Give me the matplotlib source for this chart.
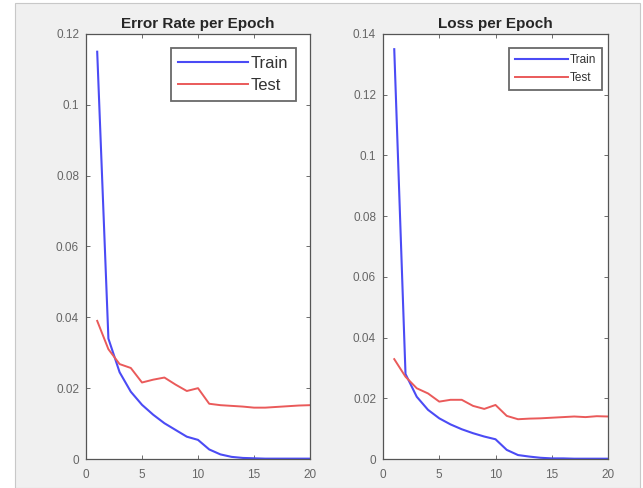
import matplotlib
matplotlib.use("Agg")
import matplotlib.pyplot as plt
from matplotlib.patches import Rectangle

plt.rcParams["font.family"] = ["Liberation Sans", "DejaVu Sans"]

epochs = list(range(1, 21))

# error rate per epoch
err_train = [0.115, 0.034, 0.0245, 0.019, 0.0153, 0.0125, 0.0101, 0.0082, 0.0063, 0.0054,
             0.0027, 0.0013, 0.0006, 0.0003, 0.0002, 0.0001, 0.0001, 0.0001, 0.0001, 0.0001]
err_test = [0.039, 0.031, 0.0268, 0.0257, 0.0216, 0.0224, 0.023, 0.021, 0.0192, 0.020,
            0.0156, 0.0152, 0.015, 0.0148, 0.0145, 0.0145, 0.0147, 0.0149, 0.0151, 0.0152]

# loss per epoch
loss_train = [0.135, 0.028, 0.0205, 0.0162, 0.0134, 0.0114, 0.0098, 0.0085, 0.0074, 0.0065,
              0.003, 0.0013, 0.0008, 0.0004, 0.0002, 0.0002, 0.0001, 0.0001, 0.0001, 0.0001]
loss_test = [0.0329, 0.0271, 0.0233, 0.0216, 0.0189, 0.0195, 0.0195, 0.0175, 0.0165, 0.0178,
             0.0142, 0.0131, 0.0133, 0.0134, 0.0136, 0.0138, 0.014, 0.0138, 0.0141, 0.014]

fig = plt.figure(figsize=(6.43, 4.88), dpi=100, facecolor="white")
# matlab style grey window background
fig.patches.append(Rectangle((15 / 643, 0), 625 / 643, 1 - 3 / 488, transform=fig.transFigure,
                             facecolor="#f0f0f0", edgecolor="#c8c8c8", lw=0.8, zorder=-10))

blue = "#4b4bf5"
red = "#ea5a5a"


def style(ax, ymax, yticks, ylabels):
    ax.set_xlim(0, 20)
    ax.set_ylim(0, ymax)
    ax.set_xticks([0, 5, 10, 15, 20])
    ax.set_yticks(yticks)
    ax.set_yticklabels(ylabels)
    ax.tick_params(direction="in", top=True, right=True, length=3, labelsize=8.5,
                   colors="#555555", labelcolor="#666666", width=0.6)
    ax.tick_params(axis="x", pad=7)
    ax.tick_params(axis="y", pad=5)
    for s in ax.spines.values():
        s.set_color("#555555")
        s.set_linewidth(0.9)


def legend(ax, size, hlen, bpad, axpad, lspace, anchor=(1, 1)):
    leg = ax.legend(loc="upper right", bbox_to_anchor=anchor, fontsize=size, frameon=True,
                    fancybox=False, handlelength=hlen, handletextpad=0.15, borderpad=bpad,
                    labelspacing=lspace, borderaxespad=axpad)
    leg.get_frame().set_edgecolor("#444444")
    leg.get_frame().set_linewidth(1.3)
    for t in leg.get_texts():
        t.set_color("#333333")


ax1 = fig.add_axes([86 / 643, 1 - 459 / 488, 224 / 643, 425 / 488])
ax1.plot(epochs, err_train, color=blue, lw=1.5, label="Train")
ax1.plot(epochs, err_test, color=red, lw=1.4, label="Test")
style(ax1, 0.12, [0, 0.02, 0.04, 0.06, 0.08, 0.1, 0.12],
      ["0", "0.02", "0.04", "0.06", "0.08", "0.1", "0.12"])
ax1.set_title("Error Rate per Epoch", fontsize=11, fontweight="bold", color="#262626", pad=4)
legend(ax1, 12, 4.2, 0.45, 0.85, 0.45)

ax2 = fig.add_axes([383 / 643, 1 - 459 / 488, 225 / 643, 425 / 488])
ax2.plot(epochs, loss_train, color=blue, lw=1.5, label="Train")
ax2.plot(epochs, loss_test, color=red, lw=1.4, label="Test")
style(ax2, 0.14, [0, 0.02, 0.04, 0.06, 0.08, 0.1, 0.12, 0.14],
      ["0", "0.02", "0.04", "0.06", "0.08", "0.1", "0.12", "0.14"])
ax2.set_title("Loss per Epoch", fontsize=11, fontweight="bold", color="#262626", pad=4)
legend(ax2, 8.5, 4.5, 0.5, 0.5, 0.55, anchor=(1, 1 - 8 / 425))

fig.savefig("out.png", dpi=100, facecolor=fig.get_facecolor())
